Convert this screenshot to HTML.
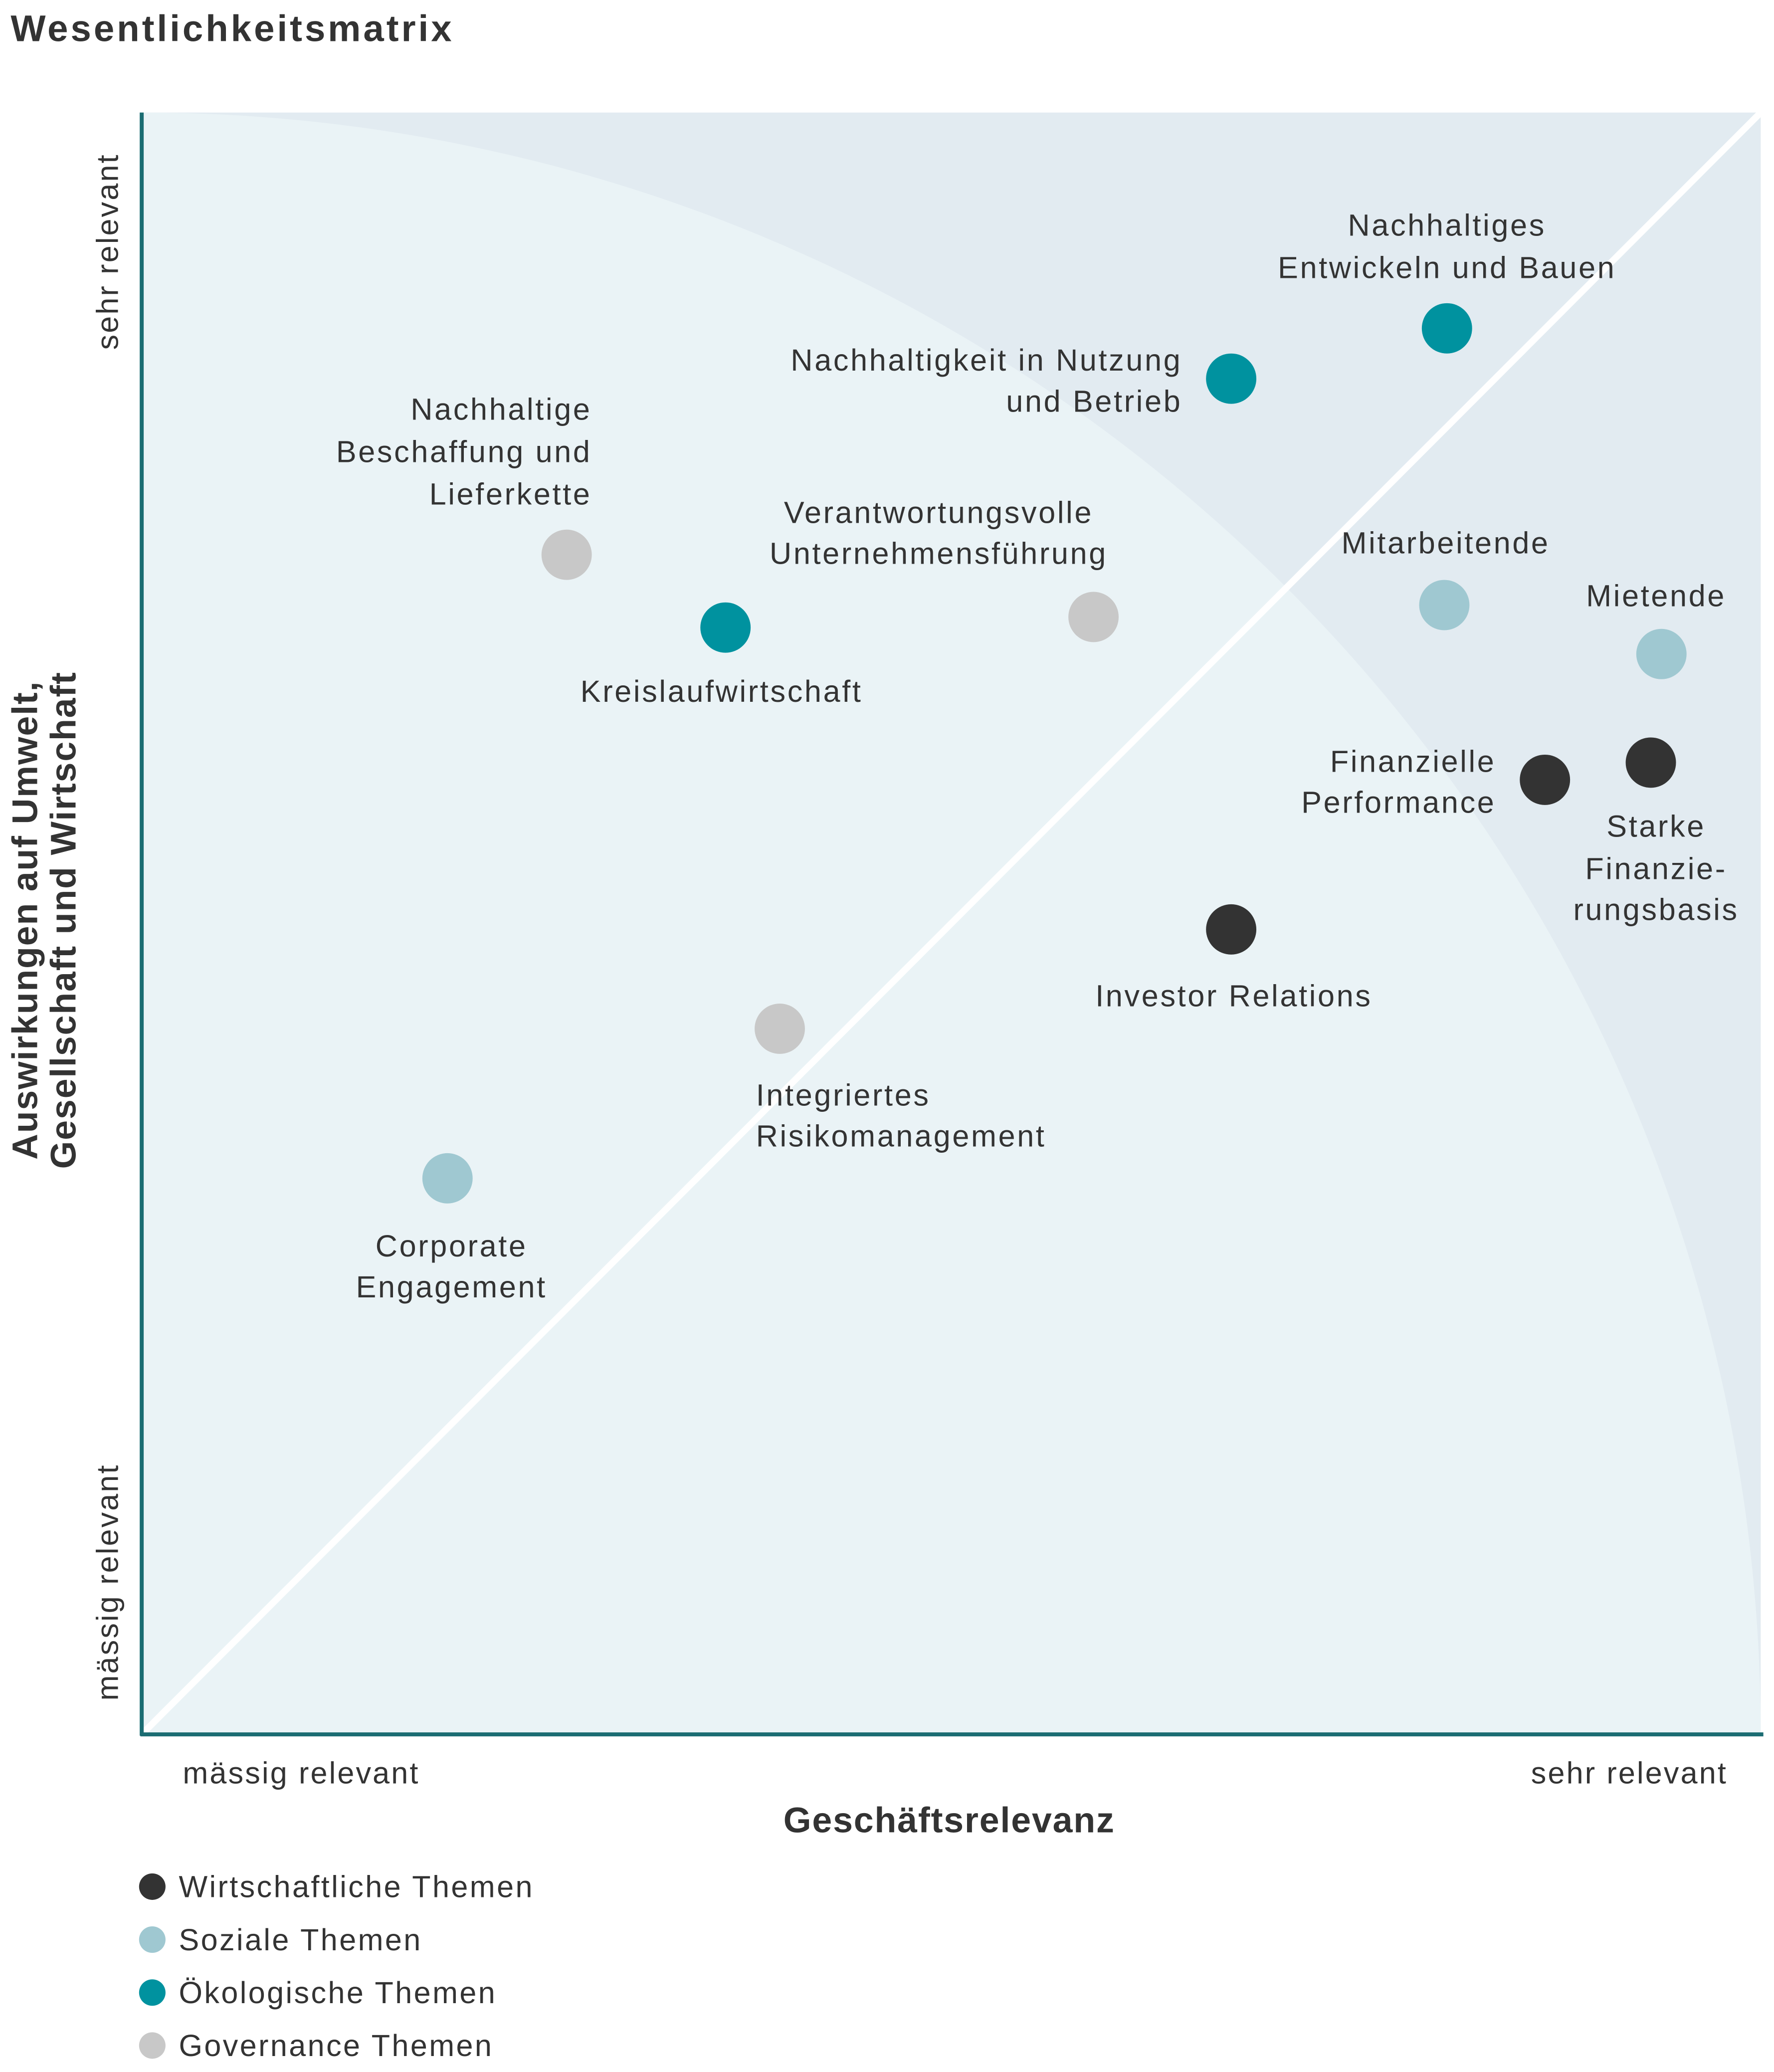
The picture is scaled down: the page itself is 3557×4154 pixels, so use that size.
<!DOCTYPE html>
<html><head><meta charset="utf-8"><style>
html,body{margin:0;padding:0;background:#fff;}
svg{display:block;}
text{font-family:"Liberation Sans",sans-serif;fill:#333;}
</style></head><body>
<svg width="3557" height="4154" viewBox="0 0 1340 1565" xmlns="http://www.w3.org/2000/svg">
<text x="8" y="31" font-size="28" font-weight="bold" letter-spacing="1.9">Wesentlichkeitsmatrix</text>
<rect x="107" y="85" width="1223" height="1225" fill="#e2ebf1"/>
<path d="M107,85 A1223,1225 0 0 1 1330,1310 L107,1310 Z" fill="#eaf3f6"/>
<line x1="107" y1="1310" x2="1330" y2="85" stroke="#fff" stroke-width="5"/>
<line x1="107" y1="85" x2="107" y2="1311" stroke="#1b6c72" stroke-width="3"/>
<line x1="106" y1="1310" x2="1332" y2="1310" stroke="#1b6c72" stroke-width="3"/>
<g font-size="23" letter-spacing="1.2">
<text transform="translate(89,190) rotate(-90)" text-anchor="middle">sehr relevant</text>
<text transform="translate(89,1195) rotate(-90)" text-anchor="middle">mässig relevant</text>
<text x="138" y="1347">mässig relevant</text>
<text x="1305" y="1347" text-anchor="end">sehr relevant</text>
</g>
<g font-size="27" font-weight="bold" letter-spacing="0.7">
<text transform="translate(28,695) rotate(-90)" text-anchor="middle">Auswirkungen auf Umwelt,</text>
<text transform="translate(57,695) rotate(-90)" text-anchor="middle">Gesellschaft und Wirtschaft</text>
<text x="717" y="1384" text-anchor="middle">Geschäftsrelevanz</text>
</g>
<g>
<circle cx="1093" cy="248" r="19" fill="#00929f"/>
<circle cx="930" cy="286" r="19" fill="#00929f"/>
<circle cx="428" cy="419" r="19" fill="#c8c8c8"/>
<circle cx="548" cy="474" r="19" fill="#00929f"/>
<circle cx="826" cy="466" r="19" fill="#c8c8c8"/>
<circle cx="1091" cy="457" r="19" fill="#9fc8d1"/>
<circle cx="1255" cy="494" r="19" fill="#9fc8d1"/>
<circle cx="1167" cy="589" r="19" fill="#333"/>
<circle cx="1247" cy="576" r="19" fill="#333"/>
<circle cx="930" cy="702" r="19" fill="#333"/>
<circle cx="589" cy="777" r="19" fill="#c8c8c8"/>
<circle cx="338" cy="890" r="19" fill="#9fc8d1"/>
</g>
<g font-size="23" letter-spacing="1.4">
<text x="1093" y="178" text-anchor="middle">Nachhaltiges</text>
<text x="1093" y="210" text-anchor="middle">Entwickeln und Bauen</text>
<text x="893" y="280" text-anchor="end">Nachhaltigkeit in Nutzung</text>
<text x="893" y="311" text-anchor="end">und Betrieb</text>
<text x="447" y="317" text-anchor="end">Nachhaltige</text>
<text x="447" y="349" text-anchor="end">Beschaffung und</text>
<text x="447" y="381" text-anchor="end">Lieferkette</text>
<text x="545" y="530" text-anchor="middle">Kreislaufwirtschaft</text>
<text x="709" y="395" text-anchor="middle">Verantwortungsvolle</text>
<text x="709" y="426" text-anchor="middle">Unternehmensführung</text>
<text x="1092" y="418" text-anchor="middle">Mitarbeitende</text>
<text x="1251" y="458" text-anchor="middle">Mietende</text>
<text x="1130" y="583" text-anchor="end">Finanzielle</text>
<text x="1130" y="614" text-anchor="end">Performance</text>
<text x="1251" y="632" text-anchor="middle">Starke</text>
<text x="1251" y="664" text-anchor="middle">Finanzie-</text>
<text x="1251" y="695" text-anchor="middle">rungsbasis</text>
<text x="932" y="760" text-anchor="middle">Investor Relations</text>
<text x="571" y="835">Integriertes</text>
<text x="571" y="866">Risikomanagement</text>
<text x="341" y="949" text-anchor="middle">Corporate</text>
<text x="341" y="980" text-anchor="middle">Engagement</text>
</g>
<g font-size="23" letter-spacing="1.3">
<circle cx="115" cy="1425" r="10" fill="#333"/><text x="135" y="1433">Wirtschaftliche Themen</text>
<circle cx="115" cy="1465" r="10" fill="#9fc8d1"/><text x="135" y="1473">Soziale Themen</text>
<circle cx="115" cy="1505" r="10" fill="#00929f"/><text x="135" y="1513">Ökologische Themen</text>
<circle cx="115" cy="1545" r="10" fill="#c8c8c8"/><text x="135" y="1553">Governance Themen</text>
</g>
</svg>
</body></html>
